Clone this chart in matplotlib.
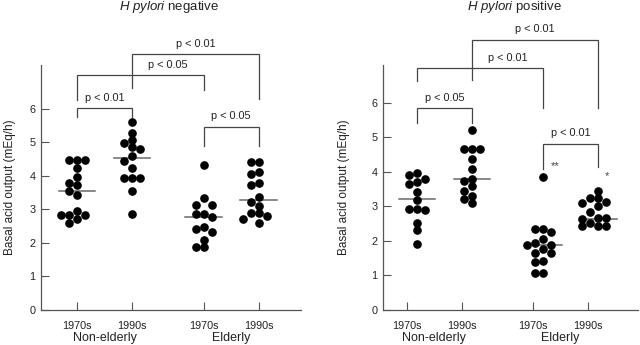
import numpy as np
import matplotlib
matplotlib.use('Agg')
import matplotlib.pyplot as plt
import matplotlib.transforms as mtransforms

plt.rcParams['font.family'] = ['Liberation Sans', 'DejaVu Sans']
plt.rcParams['mathtext.fontset'] = 'custom'
plt.rcParams['mathtext.it'] = 'Liberation Sans:italic'
plt.rcParams['mathtext.rm'] = 'Liberation Sans'

# tick / group labels
period_labels = ['1970s', '1990s', '1970s', '1990s']
age_groups = ['Non-elderly', 'Elderly']
ylabel_text = 'Basal acid output (mEq/h)'

# H pylori negative
neg_ne70 = [4.48, 4.48, 4.48, 4.25, 3.98, 3.80, 3.73, 3.56, 3.43, 2.94, 2.82, 2.82, 2.82, 2.72, 2.61]
neg_ne90 = [5.60, 5.28, 5.07, 4.98, 4.86, 4.81, 4.58, 4.46, 4.23, 3.95, 3.95, 3.95, 3.56, 2.87]
neg_el70 = [4.33, 3.33, 3.13, 3.13, 2.86, 2.86, 2.77, 2.47, 2.41, 2.34, 2.09, 1.89, 1.87]
neg_el90 = [4.43, 4.43, 4.11, 4.06, 3.78, 3.73, 3.38, 3.21, 3.10, 2.90, 2.89, 2.81, 2.71, 2.59]
neg_medians = [3.55, 4.53, 2.76, 3.27]

# H pylori positive
pos_ne70 = [3.98, 3.90, 3.79, 3.71, 3.65, 3.42, 3.19, 2.94, 2.92, 2.90, 2.53, 2.32, 1.91]
pos_ne90 = [5.22, 4.68, 4.68, 4.68, 4.37, 4.08, 3.79, 3.74, 3.58, 3.45, 3.31, 3.23, 3.09]
pos_el70 = [3.84, 2.36, 2.36, 2.27, 2.05, 1.93, 1.88, 1.88, 1.76, 1.66, 1.64, 1.43, 1.39, 1.08, 1.08]
pos_el90 = [3.45, 3.26, 3.24, 3.13, 3.09, 3.02, 2.84, 2.66, 2.66, 2.65, 2.53, 2.44, 2.44, 2.44]
pos_medians = [3.21, 3.79, 1.88, 2.65]

# brackets: (group a, group b, top, left leg end, right leg end, label, text between groups)
neg_brackets = [
    (0, 1, 6.02, 5.77, 5.77, 'p < 0.01', (0, 1)),
    (2, 3, 5.47, 4.90, 4.90, 'p < 0.05', (2, 3)),
    (0, 2, 7.01, 6.27, 6.55, 'p < 0.05', (1, 2)),
    (1, 3, 7.64, 6.62, 6.30, 'p < 0.01', (1, 3)),
]
pos_brackets = [
    (0, 1, 5.84, 5.43, 5.43, 'p < 0.05', (0, 1)),
    (2, 3, 4.82, 4.10, 4.13, 'p < 0.01', (2, 3)),
    (0, 2, 7.00, 6.64, 5.84, 'p < 0.01', (1, 2)),
    (1, 3, 7.83, 6.66, 5.84, 'p < 0.01', (1, 3)),
]
# significance stars: (group, label, value)
pos_stars = [(2, '**', 4.17), (3, '*', 3.87)]

positions = np.array([1.0, 2.0, 3.3, 4.3])
PX_X = 55.0          # pixels per x unit
DOT_PX = 6.8
COL_PX = 8.0
line_col = '#555555'


def swarm(values, px_y):
    # simple column beeswarm
    values = np.asarray(values)
    placed = {}
    cols = np.zeros(len(values))
    for i in np.argsort(-values, kind='stable'):
        v = values[i]
        for c in [0, -1, 1, -2, 2, -3, 3]:
            if all(abs(v - u) * px_y >= DOT_PX for u in placed.get(c, [])):
                placed.setdefault(c, []).append(v)
                cols[i] = c
                break
    return cols * COL_PX / PX_X


def draw_panel(ax, groups, medians, brackets, ylim, xlim, tick_shift, px_y):
    for pos, vals, med in zip(positions, groups, medians):
        off = swarm(vals, px_y)
        ax.plot(pos + off, vals, 'o', color='black', ms=5.2, mec='black', clip_on=False, zorder=3)
        ax.plot([pos - 0.33, pos + 0.33], [med, med], color='#6a6a6a', lw=1.1, zorder=2)

    for a, b, top, ya, yb, label, between in brackets:
        xa, xb = positions[a], positions[b]
        ax.plot([xa, xa, xb, xb], [ya, top, top, yb], color='#444444', lw=0.9,
                clip_on=False, solid_joinstyle='miter')
        tx = (positions[between[0]] + positions[between[1]]) / 2
        ax.text(tx, top + 0.31, label, ha='center', va='center', fontsize=7.8,
                color='#222222', clip_on=False)

    ax.set_ylim(*ylim)
    ax.set_xlim(*xlim)
    ax.set_yticks(range(7))
    ax.set_xticks(positions + tick_shift)
    ax.set_xticklabels(period_labels)
    ax.spines['top'].set_visible(False)
    ax.spines['right'].set_visible(False)
    for s in ['left', 'bottom']:
        ax.spines[s].set_color(line_col)
        ax.spines[s].set_linewidth(0.9)
    ax.tick_params(axis='both', direction='in', length=6, width=0.8, color=line_col,
                   labelsize=7.8, labelcolor='#222222')
    ax.tick_params(axis='x', pad=8)
    ax.tick_params(axis='y', pad=4)

    trans = mtransforms.blended_transform_factory(ax.transData, ax.transAxes)
    tp = positions + tick_shift
    for k, name in enumerate(age_groups):
        ax.text((tp[2 * k] + tp[2 * k + 1]) / 2, (310 - 338.5) / 245, name, transform=trans,
                ha='center', va='center', fontsize=9, color='#222222')
    ax.set_ylabel(ylabel_text, fontsize=8.5, color='#222222')


fig = plt.figure(figsize=(6.4, 3.45), dpi=100)
ax1 = fig.add_axes([41 / 640, 1 - 310 / 345, 260 / 640, 245 / 345])
ax2 = fig.add_axes([383 / 640, 1 - 310 / 345, 255 / 640, 245 / 345])

draw_panel(ax1, [neg_ne70, neg_ne90, neg_el70, neg_el90], neg_medians, neg_brackets,
           (0, 7.31), (0.345, 5.07), 0.0, 33.5)
draw_panel(ax2, [pos_ne70, pos_ne90, pos_el70, pos_el90], pos_medians, pos_brackets,
           (0, 7.10), (0.382, 5.02), -0.19, 34.5)

for g, s, v in pos_stars:
    ax2.text(positions[g] + (0.21 if s == '**' else 0.15), v, s, ha='center', va='center',
             fontsize=8, color='#444444')

ax1.yaxis.set_label_coords(-0.095, 0.5)
ax2.yaxis.set_label_coords(-0.129, 0.5)

fig.text(169 / 640, 1 - 7 / 345, r'$\it{H\ pylori}$ negative', ha='center', va='center',
         fontsize=9.5, color='#222222')
fig.text(514 / 640, 1 - 7 / 345, r'$\it{H\ pylori}$ positive', ha='center', va='center',
         fontsize=9.5, color='#222222')

fig.savefig('out.png', dpi=100)
